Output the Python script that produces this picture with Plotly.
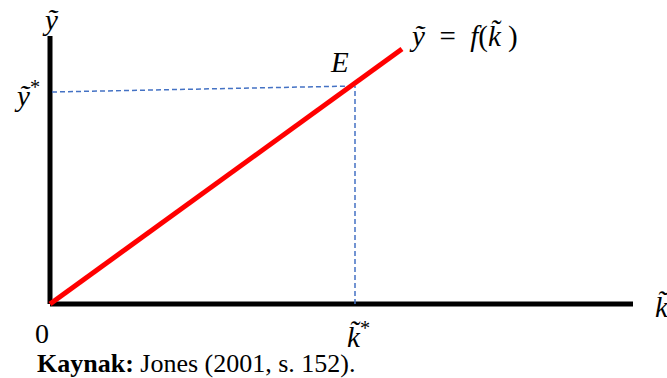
import plotly.graph_objects as go

# coordinates in diagram units, origin at the corner of the axes
axis_x = [0, 583]
axis_y = [0, 268]
curve_k = [0, 352]
curve_y = [0, 255]
k_star = 303
y_star = 218
guide_h_k = [2, k_star]
guide_h_y = [212, y_star]
guide_v_k = [305, 305]
guide_v_y = [0, y_star]

math_font = dict(family="Liberation Serif", size=29, color="black")

fig = go.Figure()

# axes
fig.add_trace(go.Scatter(x=axis_x, y=[0, 0], mode="lines",
                         line=dict(color="black", width=5)))
fig.add_trace(go.Scatter(x=[0, 0], y=axis_y, mode="lines",
                         line=dict(color="black", width=5)))

# dashed guides to E
fig.add_trace(go.Scatter(x=guide_h_k, y=guide_h_y, mode="lines",
                         line=dict(color="#4472C4", width=1.5, dash="5px,3px")))
fig.add_trace(go.Scatter(x=guide_v_k, y=guide_v_y, mode="lines",
                         line=dict(color="#4472C4", width=1.5, dash="5px,3px")))

# production function
fig.add_trace(go.Scatter(x=curve_k, y=curve_y, mode="lines",
                         line=dict(color="red", width=5)))

labels = [
    (0, 284, "<i>ỹ</i>"),
    (-23, 210, "<i>ỹ</i><sup>*</sup>"),
    (289, 242, "<i>E</i>"),
    (413, 268, "<i>ỹ</i>&nbsp;&nbsp;=&nbsp;&nbsp;<i>f</i>(<i>k̃</i>&nbsp;)"),
    (612, -3, "<i>k̃</i>"),
    (308, -31, "<i>k̃</i><sup>*</sup>"),
]
for lx, ly, txt in labels:
    fig.add_annotation(x=lx, y=ly, text=txt, showarrow=False,
                       xanchor="center", yanchor="middle", font=math_font)

fig.add_annotation(x=-8, y=-29, text="0", showarrow=False,
                   font=dict(family="Liberation Serif", size=28, color="black"))
fig.add_annotation(x=-15, y=-59, text="<b>Kaynak:</b> Jones (2001, s. 152).",
                   showarrow=False, xanchor="left", yanchor="middle",
                   font=dict(family="Liberation Serif", size=26, color="black"))

fig.update_xaxes(range=[-50, 617], visible=False)
fig.update_yaxes(range=[-74, 304], visible=False)
fig.update_layout(width=667, height=378, margin=dict(l=0, r=0, t=0, b=0),
                  showlegend=False, plot_bgcolor="white", paper_bgcolor="white")

fig.write_html("out.html", config={"displayModeBar": False},
               post_script="document.body.style.margin='0';")
